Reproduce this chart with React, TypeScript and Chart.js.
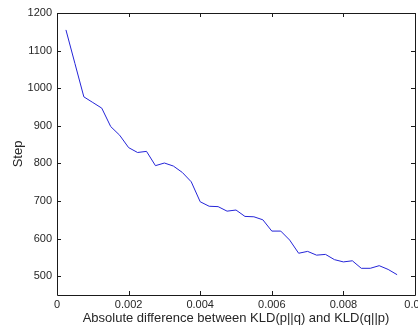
import React, { useEffect, useRef } from "react";
import { Chart, registerables } from "chart.js";

Chart.register(...registerables);

const xValues = [
  0.00025, 0.0005, 0.00075, 0.001, 0.00125, 0.0015, 0.00175, 0.002, 0.00225, 0.0025,
  0.00275, 0.003, 0.00325, 0.0035, 0.00375, 0.004, 0.00425, 0.0045, 0.00475, 0.005,
  0.00525, 0.0055, 0.00575, 0.006, 0.00625, 0.0065, 0.00675, 0.007, 0.00725, 0.0075,
  0.00775, 0.008, 0.00825, 0.0085, 0.00875, 0.009, 0.00925, 0.0095,
];
const stepValues = [
  1155, 1066, 977, 962, 947, 898, 875, 842, 829, 832,
  794, 801, 793, 776, 751, 698, 686, 685, 673, 676,
  659, 658, 650, 620, 620, 596, 561, 566, 556, 558,
  544, 538, 541, 521, 521, 528, 518, 504,
];
const xTicks = [0, 0.002, 0.004, 0.006, 0.008, 0.01];
const yTicks = [500, 600, 700, 800, 900, 1000, 1100, 1200];
const xTitle = "Absolute difference between KLD(p||q) and KLD(q||p)";
const yTitle = "Step";

const FONT = "'Liberation Sans', Arial, sans-serif";
const TEXT = "#262626";

const frameTicks = {
  id: "frameTicks",
  afterDraw(chart: any) {
    const { ctx, chartArea } = chart;
    const { left, right, top, bottom } = chartArea;
    const xs = chart.scales.x;
    const ys = chart.scales.y;
    ctx.save();
    ctx.strokeStyle = "#1a1a1a";
    ctx.lineWidth = 1;
    ctx.beginPath();
    ctx.rect(Math.round(left) + 0.5, Math.round(top) + 0.5, Math.round(right - left), Math.round(bottom - top));
    const len = 4;
    xTicks.forEach((v) => {
      const px = Math.round(xs.getPixelForValue(v)) + 0.5;
      ctx.moveTo(px, bottom);
      ctx.lineTo(px, bottom - len);
      ctx.moveTo(px, top);
      ctx.lineTo(px, top + len);
    });
    yTicks.forEach((v) => {
      const py = Math.round(ys.getPixelForValue(v)) + 0.5;
      ctx.moveTo(left, py);
      ctx.lineTo(left + len, py);
      ctx.moveTo(right, py);
      ctx.lineTo(right - len, py);
    });
    ctx.stroke();
    ctx.restore();
  },
};

export default function App() {
  const ref = useRef<HTMLCanvasElement | null>(null);
  useEffect(() => {
    if (!ref.current) return;
    const chart = new Chart(ref.current, {
      type: "line",
      data: {
        datasets: [
          {
            data: xValues.map((x, i) => ({ x, y: stepValues[i] })),
            borderColor: "#2424d8",
            borderWidth: 1,
            pointRadius: 0,
            tension: 0,
            fill: false,
          },
        ],
      },
      options: {
        animation: false,
        responsive: false,
        events: [],
        layout: { padding: { left: 0, top: 13, right: 3, bottom: 0 } },
        plugins: { legend: { display: false }, tooltip: { enabled: false } },
        scales: {
          x: {
            type: "linear",
            min: 0,
            max: 0.01,
            grid: { display: false, drawTicks: false },
            border: { display: false },
            afterBuildTicks: (s: any) => {
              s.ticks = xTicks.map((v) => ({ value: v }));
            },
            afterFit: (s: any) => {
              s.height = 33;
              s.paddingLeft = 0;
              s.paddingRight = 0;
            },
            ticks: {
              padding: 3,
              maxRotation: 0,
              autoSkip: false,
              color: TEXT,
              font: { family: FONT, size: 11 },
              callback: (v: any) => String(Number(Number(v).toFixed(4))),
            },
            title: {
              display: true,
              text: xTitle,
              color: TEXT,
              font: { family: FONT, size: 13 },
              padding: { top: 0, bottom: 2 },
            },
          },
          y: {
            type: "linear",
            min: 450,
            max: 1200,
            grid: { display: false, drawTicks: false },
            border: { display: false },
            afterBuildTicks: (s: any) => {
              s.ticks = yTicks.map((v) => ({ value: v }));
            },
            afterFit: (s: any) => {
              s.width = 57;
              s.paddingTop = 0;
              s.paddingBottom = 0;
            },
            ticks: {
              padding: 5,
              autoSkip: false,
              color: TEXT,
              font: { family: FONT, size: 11 },
              callback: (v: any) => String(v),
            },
            title: {
              display: true,
              text: yTitle,
              color: TEXT,
              font: { family: FONT, size: 13 },
              padding: { top: 11, bottom: 0 },
            },
          },
        },
      },
      plugins: [frameTicks],
    });
    return () => chart.destroy();
  }, []);
  return (
    <div style={{ position: "absolute", left: 0, top: 0, width: 418, height: 328, background: "#fff" }}>
      <canvas ref={ref} width={418} height={328} style={{ display: "block" }} />
    </div>
  );
}
